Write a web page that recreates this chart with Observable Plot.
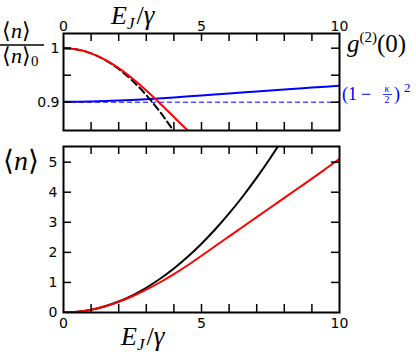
<!DOCTYPE html>
<html><head><meta charset="utf-8">
<script src="https://cdn.jsdelivr.net/npm/d3@7"></script>
<script src="https://cdn.jsdelivr.net/npm/@observablehq/plot@0.6"></script>
<style>
html,body{margin:0;padding:0;background:#fff;}
#wrap{position:relative;width:416px;height:354px;overflow:hidden;}
#wrap svg.plot{display:block;}
#over{position:absolute;left:0;top:0;pointer-events:none;}
</style></head>
<body><div id="wrap"></div>
<script>
// ---------- data ----------
const xs = [0,0.5,1,1.5,2,2.5,3,3.5,4,4.5,5];
const ratioRed = [1,0.9976,0.9905,0.9788,0.9631,0.9439,0.9217,0.8977,0.8726,0.8478,0.8246];
const ratioBlackDashed = [1,0.9976,0.9904,0.9783,0.9614,0.9398,0.9132,0.8819,0.8458,0.8048,0.7590];
const xsG2 = [0,1,2,3,4,5,6,7,8,9,10];
const g2 = [0.901,0.9015,0.903,0.9055,0.9088,0.9125,0.916,0.9198,0.9235,0.927,0.9305];
const g2Ref = 0.9;
const xsN = [0,0.5,1,1.5,2,2.5,3,3.5,4,4.5,5,5.5,6,6.5,7,7.5,8,8.5,9,9.5,10];
const nBlack = [0,0.0229,0.0915,0.2059,0.366,0.5719,0.8235,1.1209,1.464,1.8529,2.2875,2.7679,3.294,3.8659,4.4835,5.1469,5.856,6.611,7.412,8.258,9.15];
const nRed = [0,0.0228,0.0906,0.2015,0.3525,0.5398,0.759,1.006,1.278,1.571,1.886,2.21,2.53,2.85,3.17,3.49,3.81,4.13,4.45,4.78,5.11];
const xTickLabels = [0,5,10];
const xMinor = [1,2,3,4,5,6,7,8,9];
const topYTickLabels = [1,0.9];
const topYTicks = [0.9,0.95,1];
const botYTickLabels = [0,1,2,3,4,5];
const botYTicks = [1,2,3,4,5];

const topData = xs.map((x,i)=>({x, red: ratioRed[i], dash: ratioBlackDashed[i]}));
const g2d = xsG2.map((x,i)=>({x, y: g2[i]}));
const botData = xsN.map((x,i)=>({x, black: nBlack[i], red: nRed[i]}));

const W = 416;
const FW = 276; // frame width (px)
const font = {fontFamily:"'DejaVu Sans', sans-serif", fontSize:"14px", color:"#000", background:"#fff"};
const fmt = d => String(d);

function inwardTicks(yTicks, frameH){
  return [
    Plot.tickX(xMinor,{x:d=>d, stroke:"black", strokeWidth:1.5, insetBottom: frameH-8}),
    Plot.tickX(xMinor,{x:d=>d, stroke:"black", strokeWidth:1.5, insetTop: frameH-8}),
    Plot.tickY(yTicks,{y:d=>d, stroke:"black", strokeWidth:1.5, insetRight: FW-8}),
    Plot.tickY(yTicks,{y:d=>d, stroke:"black", strokeWidth:1.5, insetLeft: FW-8})
  ];
}

const topPlot = Plot.plot({
  width: W, height: 140,
  marginLeft: 63, marginRight: 77, marginTop: 33, marginBottom: 10,
  style: font,
  x: {domain:[0,10]},
  y: {domain:[0.8476,1.0272]},
  marks: [
    Plot.axisX({anchor:"top", ticks: xTickLabels, tickSize:0, tickPadding:3, label:null, tickFormat: fmt}),
    Plot.axisY({anchor:"left", ticks: topYTickLabels, tickSize:0, tickPadding:4, label:null, tickFormat: fmt}),
    Plot.ruleY([g2Ref],{stroke:"#0000ff", strokeWidth:1, strokeDasharray:"5,3"}),
    Plot.line(g2d,{x:"x", y:"y", stroke:"#0000ff", strokeWidth:2, curve:"monotone-x", clip:true}),
    Plot.line(topData,{x:"x", y:"dash", stroke:"black", strokeWidth:2, strokeDasharray:"7,4", curve:"monotone-x", clip:true}),
    Plot.line(topData,{x:"x", y:"red", stroke:"#ff0000", strokeWidth:2, curve:"monotone-x", clip:true}),
    ...inwardTicks(topYTicks, 97),
    Plot.frame({stroke:"black", strokeWidth:2})
  ]
});

const botPlot = Plot.plot({
  width: W, height: 214,
  marginLeft: 63, marginRight: 77, marginTop: 6, marginBottom: 42,
  style: font,
  x: {domain:[0,10]},
  y: {domain:[0,5.52]},
  marks: [
    Plot.axisX({anchor:"bottom", ticks: xTickLabels, tickSize:0, tickPadding:6, label:null, tickFormat: fmt}),
    Plot.axisY({anchor:"left", ticks: botYTickLabels, tickSize:0, tickPadding:6, label:null, tickFormat: fmt}),
    Plot.line(botData,{x:"x", y:"black", stroke:"black", strokeWidth:2, curve:"monotone-x", clip:true}),
    Plot.line(botData,{x:"x", y:"red", stroke:"#ff0000", strokeWidth:2, curve:"monotone-x", clip:true}),
    ...inwardTicks(botYTicks, 166),
    Plot.frame({stroke:"black", strokeWidth:2})
  ]
});

const wrap = document.getElementById("wrap");
topPlot.classList.add("plot"); botPlot.classList.add("plot");
wrap.appendChild(topPlot);
wrap.appendChild(botPlot);

const SF = "Liberation Serif";
const label = (x, y) => `<text x="${x}" y="${y}" font-size="26" font-style="italic">E<tspan font-size="17" dy="5">J</tspan><tspan dy="-5" font-style="normal" font-size="26" dx="2">/</tspan><tspan font-size="27">γ</tspan></text>`;
const over = document.createElementNS("http://www.w3.org/2000/svg","svg");
over.setAttribute("id","over");
over.setAttribute("width",416); over.setAttribute("height",354);
over.innerHTML = `
<g font-family="${SF}" fill="black">
  ${label(111, 24)}
  ${label(121, 345)}
  <text x="347" y="52" font-size="25"><tspan font-style="italic">g</tspan><tspan font-size="15" dy="-10">(2)</tspan><tspan dy="10">(0)</tspan></text>
  <text x="2" y="38" font-size="22">⟨<tspan font-style="italic">n</tspan>⟩</text>
  <line x1="0" x2="44" y1="45" y2="45" stroke="black" stroke-width="1.3"/>
  <text x="2" y="63" font-size="22">⟨<tspan font-style="italic">n</tspan>⟩<tspan font-size="15" dy="3">0</tspan></text>
  <text x="3" y="170" font-size="28">⟨<tspan font-style="italic">n</tspan>⟩</text>
  <g fill="#0000ff">
    <text x="342" y="100" font-size="18">(1</text>
    <text x="361" y="100" font-size="18">−</text>
    <text x="387" y="92" font-size="10" font-style="italic" text-anchor="middle">κ</text>
    <line x1="383" x2="392" y1="94.5" y2="94.5" stroke="#0000ff" stroke-width="0.8"/>
    <text x="387" y="103" font-size="10" text-anchor="middle">2</text>
    <text x="394" y="100" font-size="18">)</text>
    <text x="404" y="92" font-size="13">2</text>
  </g>
</g>`;
wrap.appendChild(over);
</script></body></html>
